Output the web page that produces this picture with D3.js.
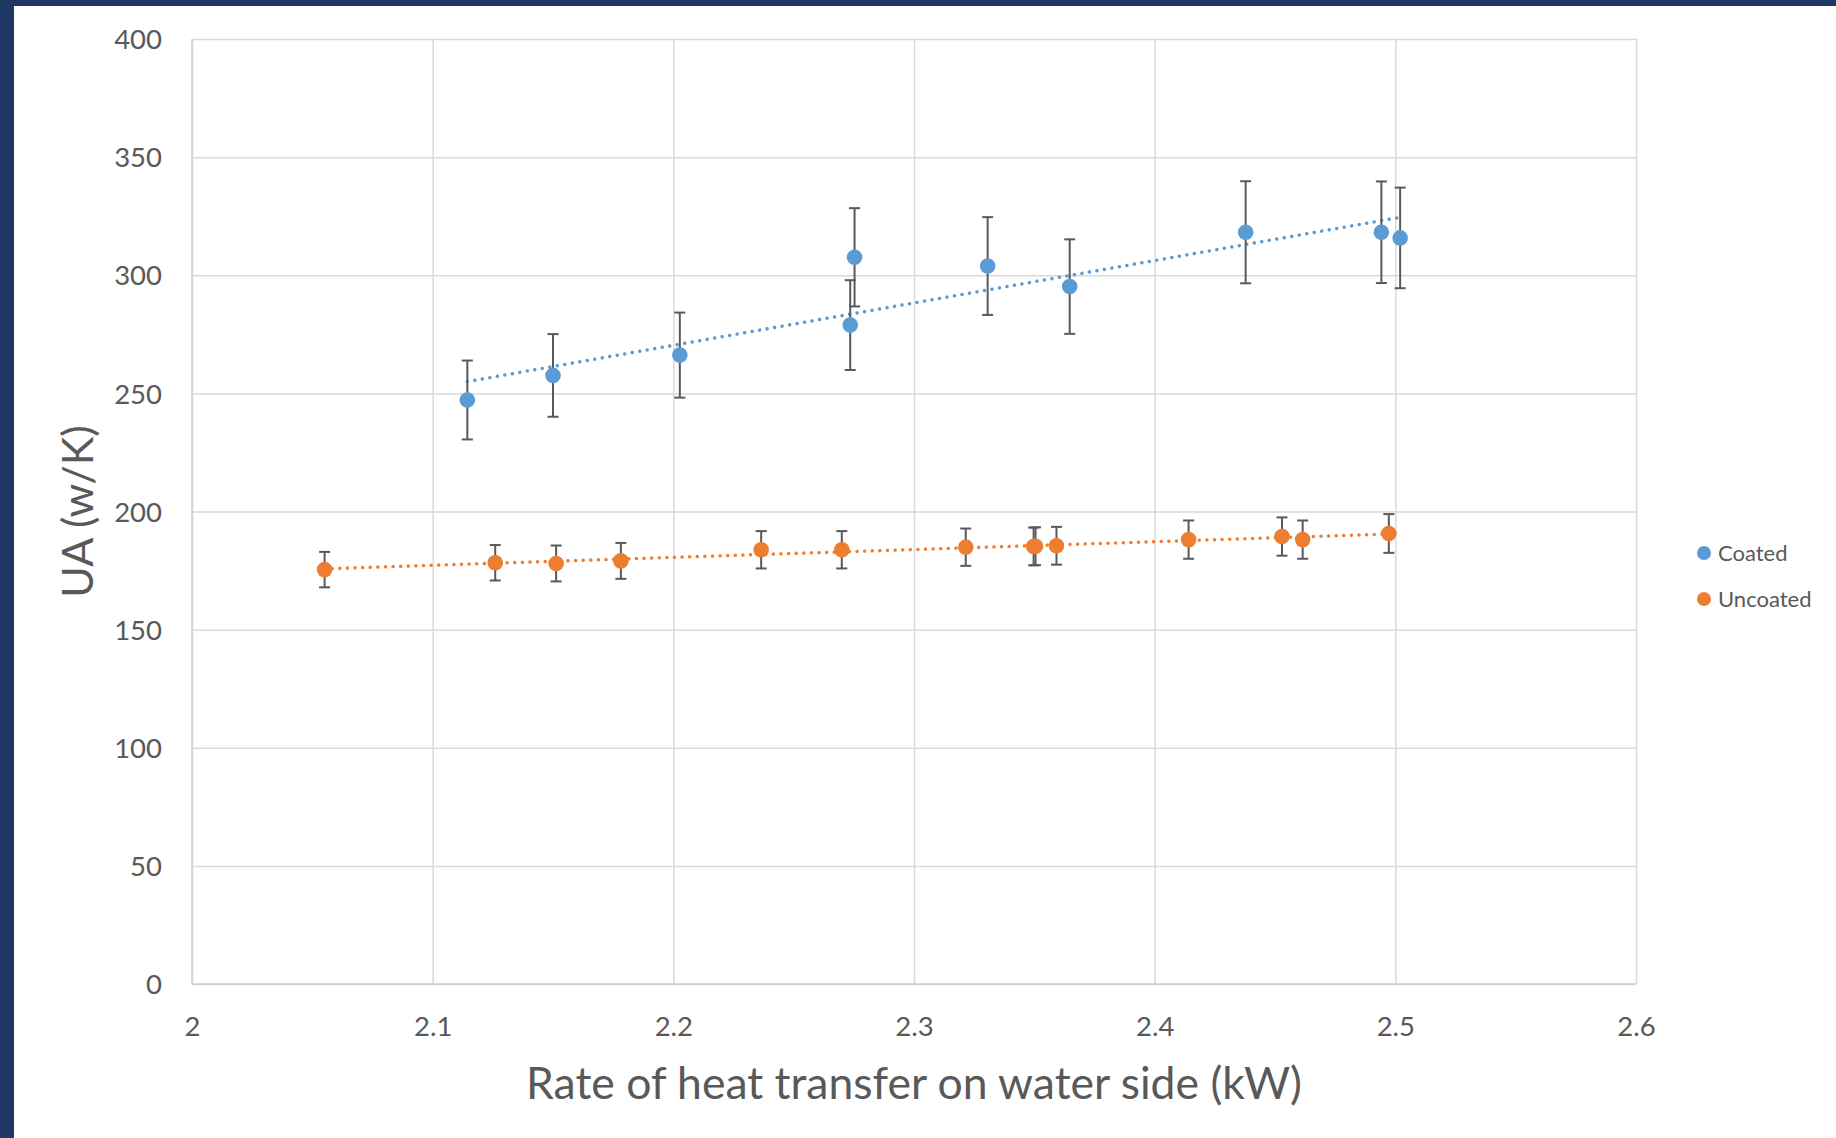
<!DOCTYPE html>
<html>
<head>
<meta charset="utf-8">
<script src="https://cdn.jsdelivr.net/npm/d3@7"></script>
<style>
  html, body { margin: 0; padding: 0; background: #ffffff; }
  svg { display: block; }
  text { font-family: Lato, "Open Sans", sans-serif; fill: #595959; }
</style>
</head>
<body>
<svg id="chart" width="1836" height="1138"></svg>
<script>
// ---- Data ----
const coatedX   = [2.1144, 2.1500, 2.2027, 2.2753, 2.2735, 2.3306, 2.3647, 2.4378, 2.4942, 2.5020];
const coatedY   = [247.2, 257.6, 266.2, 307.6, 278.9, 303.9, 295.2, 318.2, 318.2, 315.8];
const coatedErr = [16.7, 17.5, 18.0, 20.8, 19.0, 20.7, 20.0, 21.6, 21.5, 21.3];

const uncoatedX   = [2.0551, 2.1260, 2.1513, 2.1782, 2.2365, 2.2700, 2.3215, 2.3497, 2.3505, 2.3592, 2.4141, 2.4529, 2.4615, 2.4973];
const uncoatedY   = [175.4, 178.3, 178.0, 179.1, 183.8, 183.8, 184.9, 185.2, 185.3, 185.5, 188.1, 189.4, 188.1, 190.7];
const uncoatedErr = [7.5, 7.5, 7.6, 7.6, 7.9, 7.9, 7.9, 8.0, 8.0, 8.0, 8.1, 8.1, 8.1, 8.2];

const seriesNames  = ["Coated", "Uncoated"];
const seriesColors = ["#5b9bd5", "#ed7d31"];

const xTicks = [2, 2.1, 2.2, 2.3, 2.4, 2.5, 2.6];
const yTicks = [0, 50, 100, 150, 200, 250, 300, 350, 400];

const xTitle = "Rate of heat transfer on water side (kW)";
const yTitle = "UA (w/K)";

// ---- Layout ----
const W = 1836, H = 1138;
const plot = { left: 192, right: 1636, top: 39, bottom: 984 };

const svg = d3.select("#chart");

// frame bands
svg.append("rect").attr("x", 0).attr("y", 0).attr("width", W).attr("height", 6).attr("fill", "#1f3864");
svg.append("rect").attr("x", 0).attr("y", 0).attr("width", 14).attr("height", H).attr("fill", "#1f3864");

const x = d3.scaleLinear().domain([2, 2.6]).range([plot.left, plot.right]);
const y = d3.scaleLinear().domain([0, 400]).range([plot.bottom, plot.top]);

// gridlines via axes
const gx = svg.append("g").attr("transform", `translate(0,${plot.bottom})`)
  .call(d3.axisBottom(x).tickValues(xTicks).tickSize(-(plot.bottom - plot.top)).tickFormat(d => String(+d.toFixed(1))));
gx.select(".domain").remove();
gx.selectAll(".tick line").attr("stroke", "#d9d9d9").attr("stroke-width", 1.5);
gx.selectAll(".tick text").attr("font-size", 27.5).attr("dy", 0).attr("y", 52).attr("fill", "#595959")
  .style("font-family", "Lato, 'Open Sans', sans-serif");

const gy = svg.append("g").attr("transform", `translate(${plot.left},0)`)
  .call(d3.axisLeft(y).tickValues(yTicks).tickSize(-(plot.right - plot.left)).tickFormat(d3.format("d")));
gy.select(".domain").remove();
gy.selectAll(".tick line").attr("stroke", "#d9d9d9").attr("stroke-width", 1.5);
gy.selectAll(".tick text").attr("font-size", 27.5).attr("x", -30).attr("dy", "0.35em").attr("fill", "#595959")
  .style("font-family", "Lato, 'Open Sans', sans-serif");

// axis lines (left, bottom)
svg.append("line").attr("x1", plot.left).attr("x2", plot.left).attr("y1", plot.top).attr("y2", plot.bottom)
  .attr("stroke", "#cfcfcf").attr("stroke-width", 1.5);
svg.append("line").attr("x1", plot.left).attr("x2", plot.right).attr("y1", plot.bottom).attr("y2", plot.bottom)
  .attr("stroke", "#cfcfcf").attr("stroke-width", 1.5);

// ---- Series ----
function regression(xs, ys) {
  const n = xs.length;
  const mx = d3.mean(xs), my = d3.mean(ys);
  let sxy = 0, sxx = 0;
  for (let i = 0; i < n; i++) { sxy += (xs[i] - mx) * (ys[i] - my); sxx += (xs[i] - mx) ** 2; }
  const b = sxy / sxx;
  return { a: my - b * mx, b };
}

const seriesData = [
  { name: seriesNames[0], color: seriesColors[0], xs: coatedX, ys: coatedY, es: coatedErr },
  { name: seriesNames[1], color: seriesColors[1], xs: uncoatedX, ys: uncoatedY, es: uncoatedErr }
];

const line = d3.line().x(d => x(d[0])).y(d => y(d[1]));

seriesData.forEach(s => {
  const pts = s.xs.map((v, i) => ({ x: v, y: s.ys[i], e: s.es[i] }));
  const g = svg.append("g");

  // trendline
  const r = regression(s.xs, s.ys);
  const x0 = d3.min(s.xs), x1 = d3.max(s.xs);
  g.append("path")
    .attr("d", line([[x0, r.a + r.b * x0], [x1, r.a + r.b * x1]]))
    .attr("fill", "none").attr("stroke", s.color).attr("stroke-width", 3.5)
    .attr("stroke-linecap", "round").attr("stroke-dasharray", "0.01,7.6");

  // error bars
  const eb = g.append("g").attr("stroke", "#595959").attr("stroke-width", 2).attr("fill", "none");
  pts.forEach(p => {
    const cx = x(p.x), yt = y(p.y + p.e), yb = y(p.y - p.e);
    eb.append("line").attr("x1", cx).attr("x2", cx).attr("y1", yt).attr("y2", yb);
    eb.append("line").attr("x1", cx - 5.5).attr("x2", cx + 5.5).attr("y1", yt).attr("y2", yt);
    eb.append("line").attr("x1", cx - 5.5).attr("x2", cx + 5.5).attr("y1", yb).attr("y2", yb);
  });

  // markers
  g.selectAll("circle").data(pts).enter().append("circle")
    .attr("cx", d => x(d.x)).attr("cy", d => y(d.y)).attr("r", 7.8)
    .attr("fill", s.color);
});

// ---- Legend ----
const legend = svg.append("g");
seriesData.forEach((s, i) => {
  const ly = 553 + i * 46;
  legend.append("circle").attr("cx", 1704).attr("cy", ly).attr("r", 7).attr("fill", s.color);
  legend.append("text").attr("x", 1718).attr("y", ly).attr("dy", "0.36em")
    .attr("font-size", 22).text(s.name);
});

// ---- Titles ----
svg.append("text").attr("x", (plot.left + plot.right) / 2).attr("y", 1099)
  .attr("text-anchor", "middle").attr("font-size", 44.5).text(xTitle);

svg.append("text").attr("transform", `translate(93,${(plot.top + plot.bottom) / 2}) rotate(-90)`)
  .attr("text-anchor", "middle").attr("font-size", 43).text(yTitle);
</script>
</body>
</html>
